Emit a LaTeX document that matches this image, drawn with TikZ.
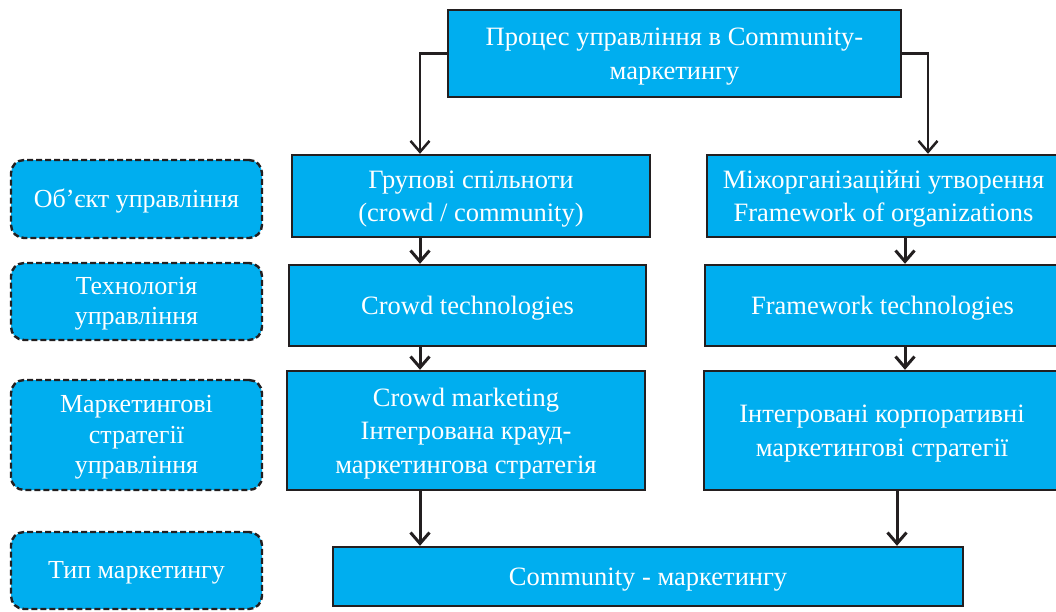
\documentclass[tikz,border=0pt]{standalone}
\usepackage{fontspec}
\setmainfont{Liberation Serif}
\usetikzlibrary{arrows.meta}
\definecolor{boxblue}{HTML}{00AEEF}
\definecolor{edge}{HTML}{231F20}
\newcommand{\tstrut}{\rule{0pt}{24pt}}
\newcommand{\lstrut}{\rule{0pt}{22pt}}
\begin{document}
\begin{tikzpicture}[x=1pt,y=-1pt,
  box/.style={draw=edge, line width=2.4pt, fill=boxblue, text=white, align=center,
    font=\fontsize{26.5}{33.5}\selectfont, inner sep=0pt},
  lbl/.style={draw=edge, dash pattern=on 6pt off 3pt, line width=2.4pt, rounded corners=13pt,
    fill=boxblue, text=white, align=center, font=\fontsize{26}{30.5}\selectfont, inner sep=0pt,
    minimum width=251pt},
  arr/.style={line width=3pt, draw=edge, -{Straight Barb[length=11pt,width=19pt]}}]
\useasboundingbox (0,0) rectangle (1056,611);
\clip (0,0) rectangle (1056,611);
% main boxes
\node[box, minimum width=453pt, minimum height=87pt] (top) at (674.5,53.5)
  {\tstrut Процес управління в Community-\\маркетингу};
\node[box, minimum width=358pt, minimum height=82pt] (b1) at (471,196)
  {\tstrut Групові спільноти\\(crowd / community)};
\node[box, minimum width=357pt, minimum height=81pt] (b2) at (467.5,305.5)
  {\tstrut Crowd technologies};
\node[box, minimum width=358pt, minimum height=119pt] (b3) at (466,430.5)
  {\tstrut Crowd marketing\\Інтегрована крауд-\\маркетингова стратегія};
\node[box, minimum width=353pt, minimum height=82pt] (r1) at (883.5,196)
  {\tstrut Міжорганізаційні утворення\\Framework of organizations};
\node[box, minimum width=355pt, minimum height=81pt] (r2) at (882.5,305.5)
  {\tstrut Framework technologies};
\node[box, minimum width=356pt, minimum height=119pt] (r3) at (882,430.5)
  {\tstrut Інтегровані корпоративні\\маркетингові стратегії};
\node[box, minimum width=630pt, minimum height=59pt] (bot) at (648,576.5)
  {\tstrut Community - маркетингу};
% left labels
\node[lbl, minimum height=78pt] (l1) at (136.5,199) {\lstrut Об’єкт управління};
\node[lbl, minimum height=77pt] (l2) at (136.5,301.5) {\lstrut Технологія\\управління};
\node[lbl, minimum height=110pt] (l3) at (136.5,435) {\lstrut Маркетингові\\стратегії\\управління};
\node[lbl, minimum height=77pt] (l4) at (136.5,570.5) {\lstrut Тип маркетингу};
% connectors
\draw[arr, line width=2.5pt] (top.west) -| (420,0 |- b1.north);
\draw[arr, line width=2.5pt] (top.east) -| (928,0 |- r1.north);
\draw[arr] (420,0 |- b1.south) -- (420,0 |- b2.north);
\draw[arr] (420,0 |- b2.south) -- (420,0 |- b3.north);
\draw[arr] (420,0 |- b3.south) -- (420,0 |- bot.north);
\draw[arr] (905,0 |- r1.south) -- (905,0 |- r2.north);
\draw[arr] (905,0 |- r2.south) -- (905,0 |- r3.north);
\draw[arr] (897,0 |- r3.south) -- (897,0 |- bot.north);
\end{tikzpicture}
\end{document}
